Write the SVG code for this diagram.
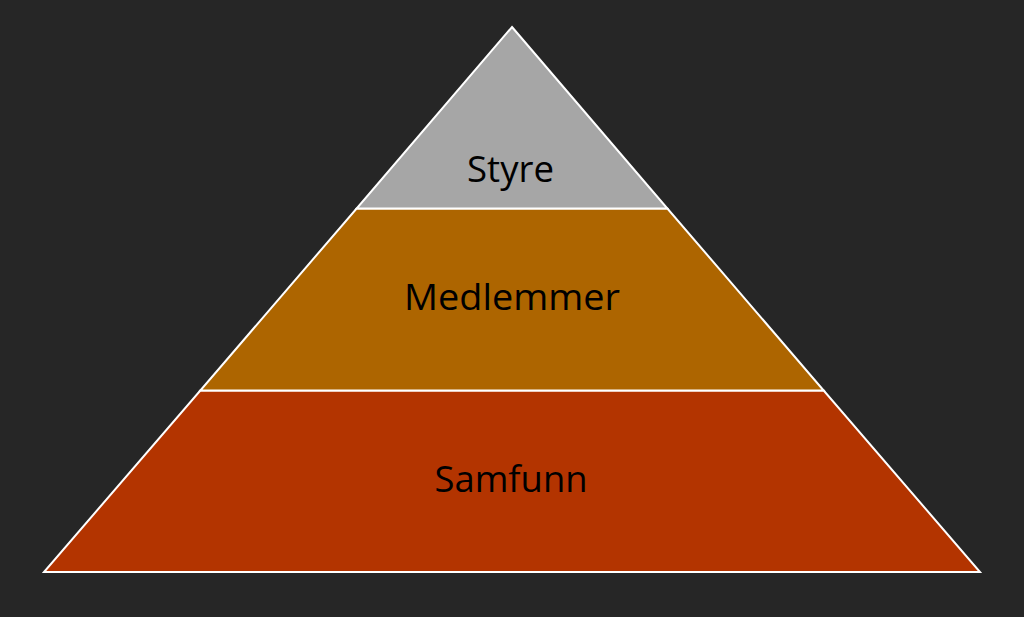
<svg xmlns="http://www.w3.org/2000/svg" width="1024" height="617" viewBox="0 0 1024 617">
<style>
.lvl{stroke:#ffffff;stroke-width:2;stroke-linejoin:miter}
.lbl{font-family:"Open Sans","Noto Sans",sans-serif;font-size:37px;fill:#000000;text-anchor:middle}
</style>
<rect x="0" y="0" width="1024" height="617" fill="#262626"/>
<g id="samfunn">
<polygon class="lvl" fill="#B33400" points="200.3,390.5 823.7,390.5 980,572 44,572"/>
<text class="lbl" x="511" y="492" textLength="153" lengthAdjust="spacingAndGlyphs">Samfunn</text>
</g>
<g id="medlemmer">
<polygon class="lvl" fill="#AD6500" points="356.6,208.5 667.4,208.5 823.7,390.5 200.3,390.5"/>
<text class="lbl" x="512" y="310" textLength="216" lengthAdjust="spacingAndGlyphs">Medlemmer</text>
</g>
<g id="styre">
<polygon class="lvl" fill="#A6A6A6" points="512,27 667.4,208.5 356.6,208.5"/>
<text class="lbl" x="510.5" y="182" textLength="87" lengthAdjust="spacingAndGlyphs">Styre</text>
</g>
<g id="connectors"></g>
</svg>
